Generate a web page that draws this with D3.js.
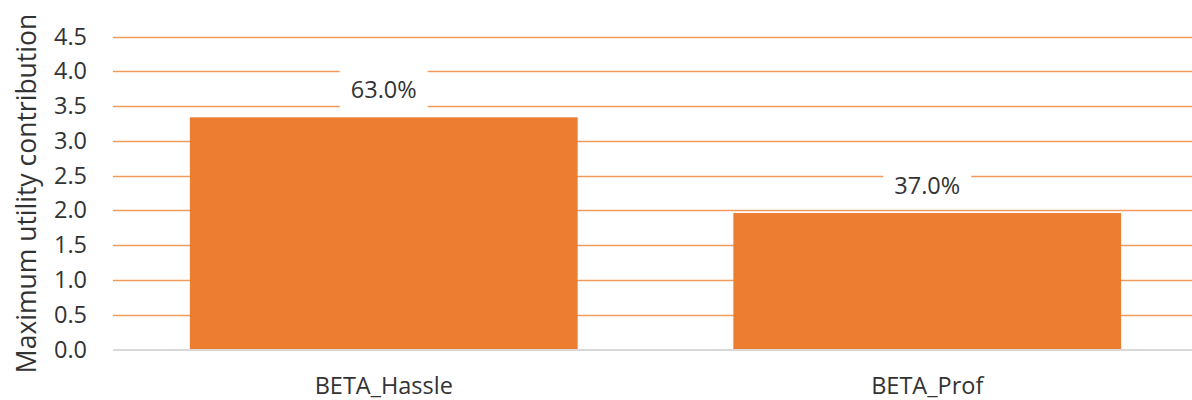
<!DOCTYPE html>
<html>
<head>
<meta charset="utf-8">
<script src="https://cdn.jsdelivr.net/npm/d3@7"></script>
<style>
  html, body { margin: 0; padding: 0; background: #fff; }
  svg { display: block; font-family: "Open Sans", "Noto Sans", sans-serif; }
</style>
</head>
<body>
<svg id="chart" width="1192" height="400"></svg>
<script>
// Maximum utility contribution per attribute
const categories = ["BETA_Hassle", "BETA_Prof"];
const values = [3.338, 1.962];
const shareLabels = ["63.0%", "37.0%"];
const yTicks = [0, 0.5, 1, 1.5, 2, 2.5, 3, 3.5, 4, 4.5];
const yTitle = "Maximum utility contribution";

const svg = d3.select("#chart");
const plot = { left: 113, right: 1192, top: 36.5, bottom: 349.5 };

const y = d3.scaleLinear().domain([0, 4.5]).range([plot.bottom, plot.top]);
const x = d3.scaleBand()
  .domain(categories)
  .range([112, 1199])
  .paddingInner(0.2865)
  .paddingOuter(0.1433);

const textColor = "#333333";
const labelSize = "23.5px";

// horizontal gridlines
svg.append("g")
  .selectAll("line")
  .data(yTicks.filter(d => d > 0))
  .join("line")
  .attr("x1", plot.left).attr("x2", plot.right)
  .attr("y1", d => Math.round(y(d)) + 0.5).attr("y2", d => Math.round(y(d)) + 0.5)
  .attr("stroke", "#F29A5C")
  .attr("stroke-width", 1.4);

// y axis tick labels
const yAxis = d3.axisLeft(y).tickValues(yTicks).tickFormat(d3.format(".1f")).tickSize(0).tickPadding(0);
const gy = svg.append("g").attr("transform", "translate(87,0)").call(yAxis);
gy.select(".domain").remove();
gy.selectAll("text")
  .attr("fill", textColor)
  .style("font-size", labelSize)
  .style("font-family", "'Open Sans', sans-serif");

// bars
svg.append("g")
  .selectAll("rect")
  .data(categories)
  .join("rect")
  .attr("x", d => x(d))
  .attr("width", x.bandwidth())
  .attr("y", (d, i) => y(values[i]))
  .attr("height", (d, i) => y(0) - y(values[i]))
  .attr("fill", "#ED7D31");

// baseline
svg.append("line")
  .attr("x1", plot.left).attr("x2", plot.right)
  .attr("y1", plot.bottom + 0.5).attr("y2", plot.bottom + 0.5)
  .attr("stroke", "#D9D9D9")
  .attr("stroke-width", 2);

// x axis category labels
const xAxis = d3.axisBottom(x).tickSize(0).tickPadding(0);
const gx = svg.append("g").attr("transform", `translate(0,${plot.bottom})`).call(xAxis);
gx.select(".domain").remove();
gx.selectAll("text")
  .attr("fill", textColor)
  .attr("dy", null)
  .attr("y", 44)
  .style("font-size", labelSize)
  .style("font-family", "'Open Sans', sans-serif");

// share labels with white backing
const labels = svg.append("g")
  .selectAll("g")
  .data(categories)
  .join("g")
  .attr("transform", (d, i) => `translate(${x(d) + x.bandwidth() / 2},${y(values[i]) - 28})`);

labels.append("rect")
  .attr("x", -44).attr("width", 88)
  .attr("y", -21).attr("height", 42)
  .attr("fill", "#fff");

labels.append("text")
  .attr("text-anchor", "middle")
  .attr("dy", "0.36em")
  .attr("fill", textColor)
  .style("font-size", labelSize)
  .text((d, i) => shareLabels[i]);

// y axis title
svg.append("text")
  .attr("transform", `translate(36,${(10 + 377) / 2}) rotate(-90)`)
  .attr("text-anchor", "middle")
  .attr("fill", textColor)
  .style("font-size", "26.5px")
  .text(yTitle);
</script>
</body>
</html>
